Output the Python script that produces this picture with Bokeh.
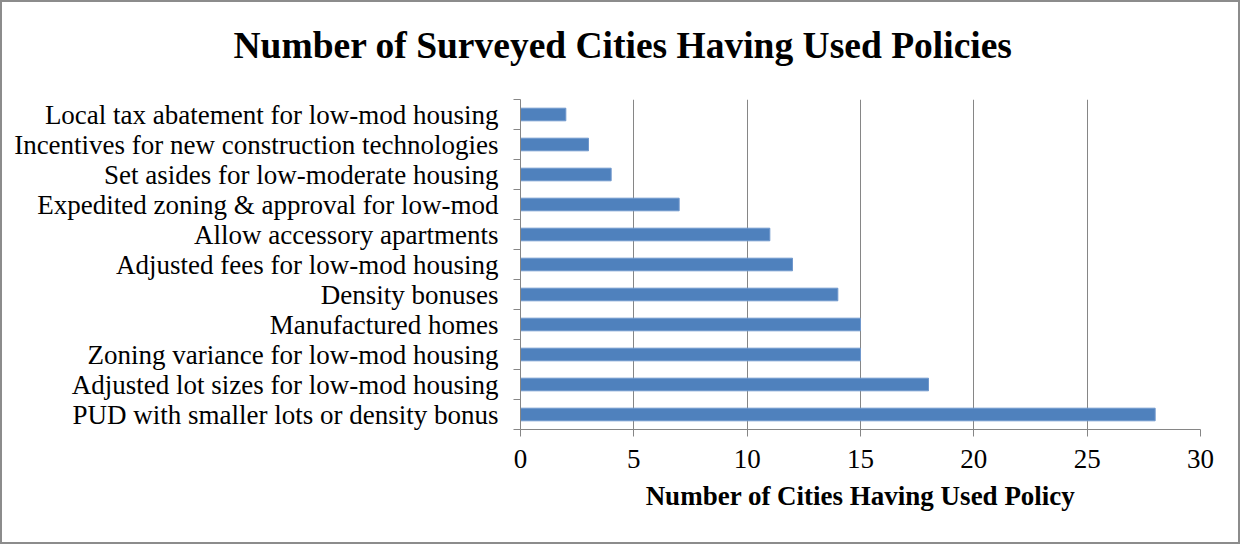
from bokeh.plotting import figure
from bokeh.models import FixedTicker, Range1d, ColumnDataSource
from bokeh.embed import file_html
from bokeh.resources import INLINE

TITLE = "Number of Surveyed Cities Having Used Policies"
# categories listed bottom to top
policies = [
    "PUD with smaller lots or density bonus",
    "Adjusted lot sizes for low-mod housing",
    "Zoning variance for low-mod housing",
    "Manufactured homes",
    "Density bonuses",
    "Adjusted fees for low-mod housing",
    "Allow accessory apartments",
    "Expedited zoning & approval for low-mod",
    "Set asides for low-moderate housing",
    "Incentives for new construction technologies",
    "Local tax abatement for low-mod housing",
]
cities = [28, 18, 15, 15, 14, 12, 11, 7, 4, 3, 2]
x_ticks = [0, 5, 10, 15, 20, 25, 30]

pos = [i + 0.5 for i in range(len(policies))]
src = ColumnDataSource(dict(y=pos, v=cities))

FONT = "Liberation Serif"
GREY = "#868686"

p = figure(width=1240, height=544, output_backend="svg", toolbar_location=None,
           x_range=Range1d(0, 30), y_range=Range1d(0, len(policies)),
           min_border_left=518, min_border_right=42, min_border_top=97,
           min_border_bottom=117)
p.styles = {"border": "2px solid #8c8c8c"}

p.hbar(y="y", right="v", left=0, height=0.42, source=src,
       fill_color="#4F81BD", line_color="#6f97cc", line_width=1)

p.title.text = TITLE
p.title.align = "left"
p.title.offset = -287
p.title.text_font = FONT
p.title.text_font_size = "37.5px"
p.title.text_font_style = "bold"
p.title.text_color = "#000000"
p.title.standoff = 0
p.title.padding = dict(left=0, right=0, top=0, bottom=34)

p.outline_line_color = None
p.background_fill_color = "white"
p.border_fill_color = "white"

# x axis
xa = p.xaxis[0]
xa.ticker = FixedTicker(ticks=x_ticks)
xa.axis_label = "Number of Cities Having Used Policy"
xa.axis_label_text_font = FONT
xa.axis_label_text_font_size = "27px"
xa.axis_label_text_font_style = "bold"
xa.axis_label_text_color = "#000000"
xa.axis_label_standoff = 10
xa.major_label_text_font = FONT
xa.major_label_text_font_size = "27px"
xa.major_label_text_color = "#000000"
xa.major_label_standoff = 13
xa.major_tick_out = 7
xa.major_tick_in = 0
xa.minor_tick_out = 0
xa.minor_tick_in = 0
xa.axis_line_color = GREY
xa.major_tick_line_color = GREY

# y axis
ya = p.yaxis[0]
ya.ticker = FixedTicker(ticks=pos, minor_ticks=list(range(len(policies) + 1)))
ya.major_label_overrides = {pos[i]: policies[i] for i in range(len(policies))}
ya.major_label_text_font = FONT
ya.major_label_text_font_size = "27px"
ya.major_label_text_color = "#000000"
ya.major_label_standoff = 15
ya.major_tick_out = 0
ya.major_tick_in = 0
ya.minor_tick_out = 7
ya.minor_tick_in = 0
ya.minor_tick_line_color = GREY
ya.axis_line_color = GREY

p.xgrid.grid_line_color = GREY
p.xgrid.ticker = FixedTicker(ticks=x_ticks)
p.ygrid.grid_line_color = None

open("out.html", "w").write(file_html(p, INLINE))
